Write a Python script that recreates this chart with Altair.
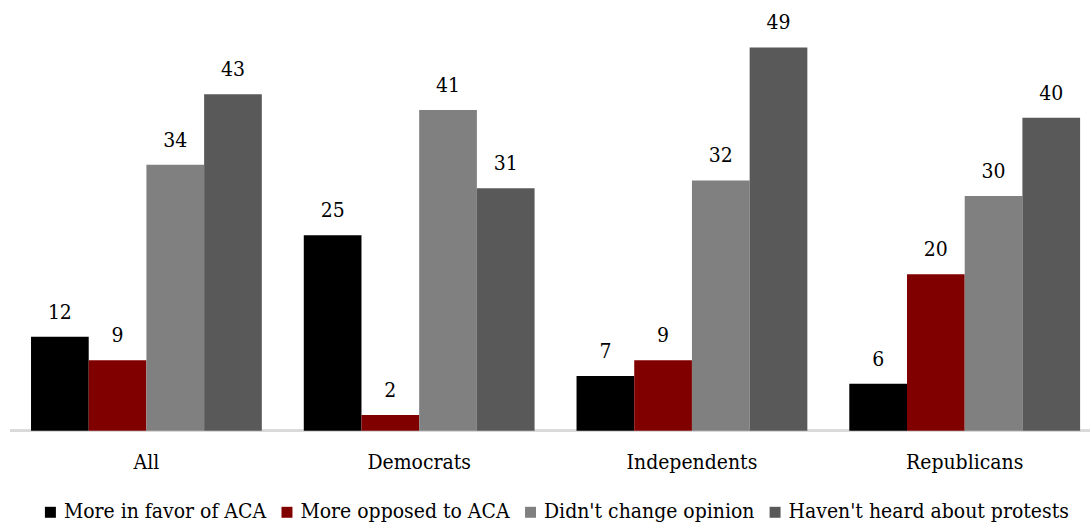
import altair as alt
import pandas as pd

# Survey groups and response categories
groups = ["All", "Democrats", "Independents", "Republicans"]
series = [
    "More in favor of ACA",
    "More opposed to ACA",
    "Didn't change opinion",
    "Haven't heard about protests",
]
colors = ["#000000", "#800000", "#808080", "#595959"]

# Percent of respondents per group, one list per response category
favor = [12, 25, 7, 6]
opposed = [9, 2, 9, 20]
no_change = [34, 41, 32, 30]
not_heard = [43, 31, 49, 40]

values = [favor, opposed, no_change, not_heard]
rows = []
for s, vals in zip(series, values):
    for g, v in zip(groups, vals):
        rows.append({"group": g, "series": s, "value": v})
df = pd.DataFrame(rows)

FONT = "DejaVu Serif Condensed"
FS = 21
W, H = 1082, 431

x = alt.X(
    "group:N",
    sort=groups,
    title=None,
    scale=alt.Scale(paddingInner=0.1538, paddingOuter=0.0567, align=0.68),
    axis=alt.Axis(
        labelAngle=0,
        labelFont=FONT,
        labelFontSize=FS,
        labelColor="#000000",
        labelPadding=21,
        ticks=False,
        domain=False,
    ),
)
x_off = alt.XOffset("series:N", sort=series, scale=alt.Scale(paddingInner=0, paddingOuter=0))
y = alt.Y("value:Q", scale=alt.Scale(domain=[0, 55], nice=False), axis=None)

# horizontal baseline across the full plot width
baseline = alt.Chart(df).mark_rule(color="#d9d9d9", strokeWidth=2).encode(
    x=alt.value(0), x2=alt.value(W), y=alt.value(H)
)

bars = alt.Chart(df).mark_bar().encode(
    x=x,
    xOffset=x_off,
    y=y,
    color=alt.Color(
        "series:N",
        sort=series,
        scale=alt.Scale(domain=series, range=colors),
        legend=alt.Legend(
            title=None,
            orient="none",
            direction="horizontal",
            legendX=30,
            legendY=502,
            symbolType="square",
            symbolSize=121,
            symbolStrokeWidth=0,
            symbolOpacity=1,
            labelFont=FONT,
            labelFontSize=FS,
            labelColor="#000000",
            labelOffset=3,
            columnPadding=10,
            labelLimit=400,
            padding=0,
        ),
    ),
)

labels = alt.Chart(df).mark_text(
    font=FONT, fontSize=FS, color="#000000", baseline="alphabetic", dy=-18
).encode(
    x=x,
    xOffset=x_off,
    y=y,
    text="value:Q",
)

chart = (
    alt.layer(baseline, bars, labels)
    .properties(
        width=W,
        height=H,
        padding={"left": 9, "top": 0, "right": 0, "bottom": 0},
        background="#ffffff",
    )
    .configure_view(stroke=None)
)

chart.save("out.html", embed_options={"renderer": "svg", "actions": False})
